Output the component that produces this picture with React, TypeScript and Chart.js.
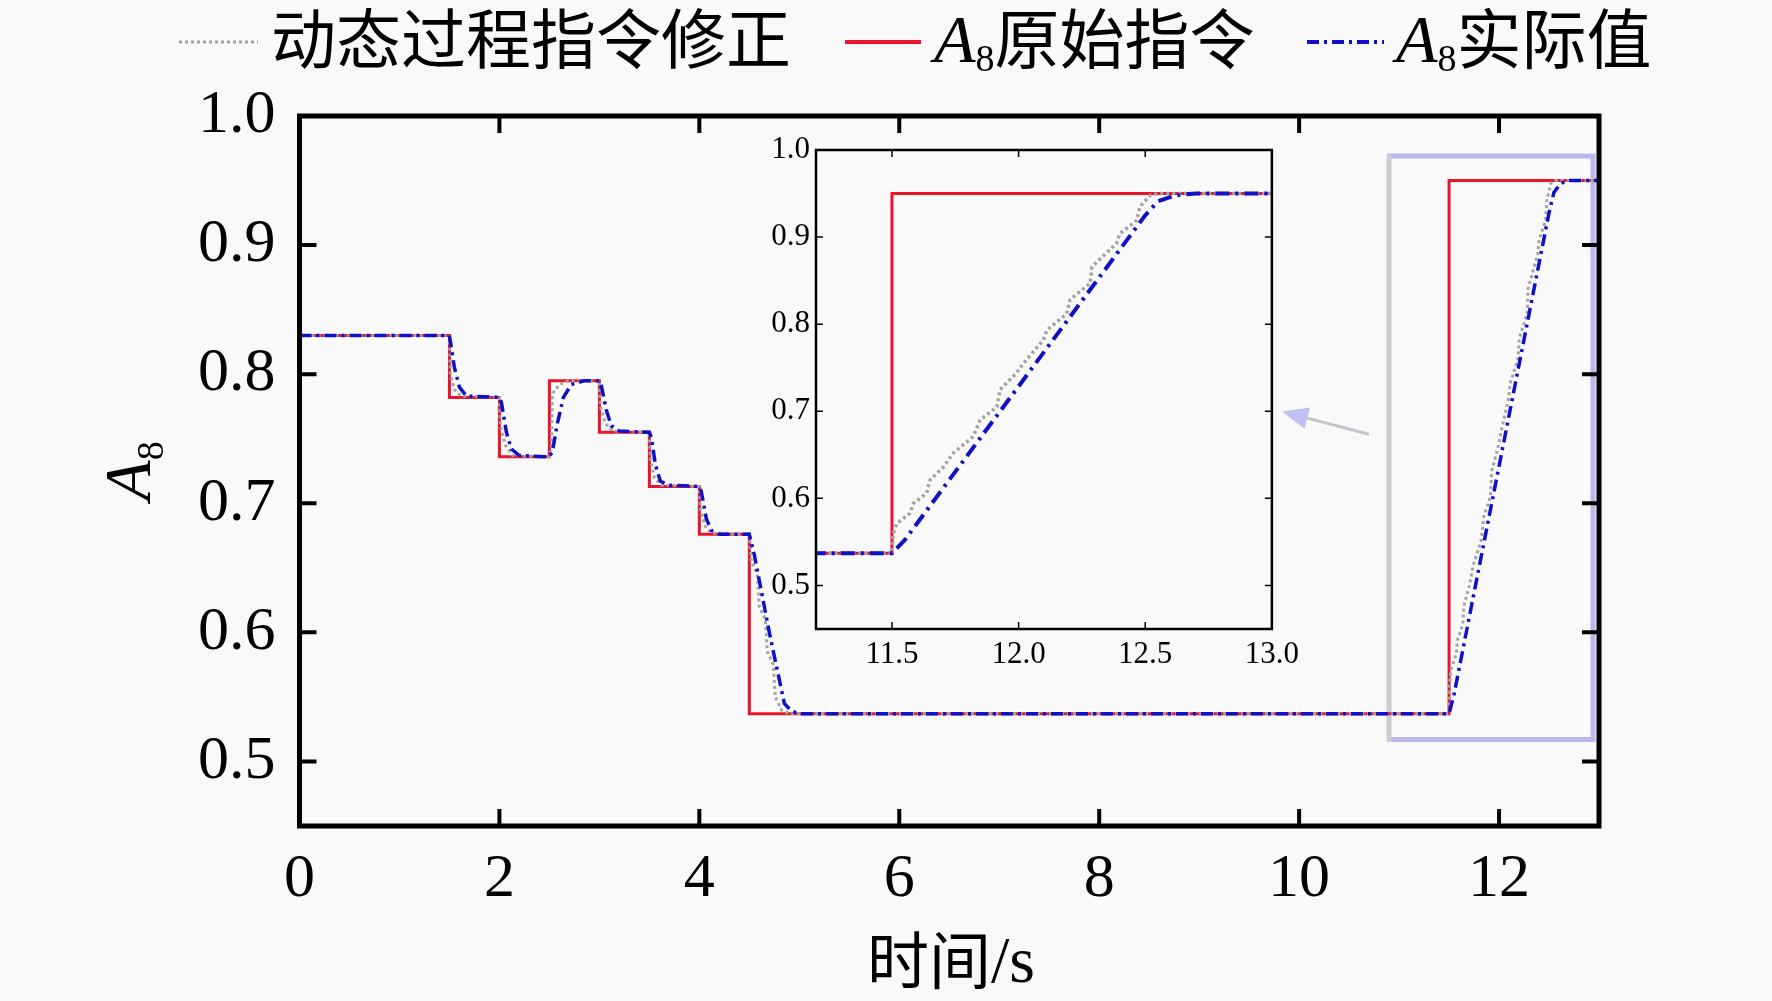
import React, { useEffect, useRef } from 'react';
import { Chart, registerables } from 'chart.js';

Chart.register(...registerables);

// ---- data (time in s, A8 values) ----
const redTimes = [0, 1.5, 2, 2.5, 3, 3.5, 4, 4.5, 11.5, 13];
const redValues = [0.83, 0.782, 0.736, 0.795, 0.755, 0.713, 0.676, 0.537, 0.95, 0.95];

const blueTimes = [
  0, 1.5, 1.55, 1.6, 1.67, 2.0, 2.02, 2.07, 2.12, 2.2, 2.5, 2.53, 2.58, 2.64, 2.72, 2.85,
  3.0, 3.02, 3.07, 3.12, 3.2, 3.5, 3.52, 3.56, 3.61, 3.7, 4.0, 4.02, 4.07, 4.12, 4.2,
  4.5, 4.55, 4.7, 4.85, 4.92, 5.0, 11.5, 11.55, 12.5, 12.55, 12.62, 12.7, 13.0,
];
const blueValues = [
  0.83, 0.83, 0.805, 0.79, 0.783, 0.782, 0.778, 0.755, 0.742, 0.737, 0.736, 0.74, 0.762, 0.782, 0.792, 0.795,
  0.795, 0.791, 0.772, 0.76, 0.756, 0.755, 0.751, 0.73, 0.717, 0.714, 0.713, 0.709, 0.688, 0.679, 0.676,
  0.676, 0.66, 0.6, 0.545, 0.539, 0.537, 0.537, 0.552, 0.925, 0.941, 0.948, 0.95, 0.95,
];

const grayTimes = [
  0, 1.5, 1.51, 1.55, 1.62, 2.0, 2.01, 2.06, 2.13, 2.5, 2.52, 2.53, 2.6, 2.7, 3.0, 3.01, 3.06, 3.13,
  3.5, 3.51, 3.55, 3.62, 4.0, 4.01, 4.06, 4.12, 4.5, 4.52, 4.58, 4.6, 4.66, 4.68, 4.74, 4.76, 4.82, 4.9,
  11.5, 11.505, 11.519, 11.571, 11.584, 11.637, 11.65, 11.703, 11.742, 11.821, 11.848, 11.914,
  11.927, 11.992, 12.019, 12.098, 12.111, 12.19, 12.203, 12.282, 12.29, 12.387, 12.4, 12.466,
  12.479, 12.52, 12.56, 13.0,
];
const grayValues = [
  0.83, 0.83, 0.8, 0.788, 0.783, 0.782, 0.76, 0.745, 0.737, 0.736, 0.742, 0.785, 0.792, 0.795, 0.795, 0.775, 0.762, 0.756,
  0.755, 0.735, 0.72, 0.714, 0.713, 0.695, 0.682, 0.677, 0.676, 0.655, 0.645, 0.62, 0.61, 0.585, 0.575, 0.55, 0.54, 0.537,
  0.537, 0.56, 0.571, 0.583, 0.594, 0.606, 0.621, 0.636, 0.652, 0.671, 0.69, 0.705,
  0.725, 0.744, 0.755, 0.782, 0.793, 0.812, 0.828, 0.847, 0.866, 0.893, 0.904, 0.919,
  0.935, 0.948, 0.95, 0.95,
];

const mainXTicks = [0, 2, 4, 6, 8, 10, 12];
const mainYTicks = [0.5, 0.6, 0.7, 0.8, 0.9, 1.0];
const insetXTicks = [11.5, 12.0, 12.5, 13.0];
const insetYTicks = [0.5, 0.6, 0.7, 0.8, 0.9, 1.0];

// highlight box (data units) and arrow (data units, tail -> head)
const zoomBoxX = [10.9, 12.94];
const zoomBoxY = [0.517, 0.969];
const arrowTail = [10.7, 0.7535];
const arrowHead = [9.83, 0.771];

const legendLabels = ['动态过程指令修正', '原始指令', '实际值'];

const W = 1772;
const H = 1001;
const SERIF = '"Liberation Serif", "Times New Roman", serif';
const CJK = '"Noto Sans CJK SC", sans-serif';
const RED = '#e8142e';
const BLUE = '#1010c8';
const GRAY = '#a4a4a4';

const pts = (t: number[], v: number[]) => t.map((x, i) => ({ x, y: v[i] }));

type Part = { text: string; font: string; dy?: number };
function drawParts(ctx: CanvasRenderingContext2D, x: number, y: number, parts: Part[], align: 'left' | 'center') {
  let total = 0;
  const widths = parts.map((p) => {
    ctx.font = p.font;
    const w = ctx.measureText(p.text).width;
    total += w;
    return w;
  });
  let cx = align === 'center' ? x - total / 2 : x;
  ctx.textAlign = 'left';
  ctx.textBaseline = 'alphabetic';
  parts.forEach((p, i) => {
    ctx.font = p.font;
    ctx.fillText(p.text, cx, y + (p.dy || 0));
    cx += widths[i];
  });
}

const mainDecor = {
  id: 'mainDecor',
  beforeDatasetsDraw(chart: any) {
    const ctx: CanvasRenderingContext2D = chart.ctx;
    const xs = chart.scales.x;
    const ys = chart.scales.y;
    ctx.save();
    // highlight box
    const bx0 = xs.getPixelForValue(zoomBoxX[0]);
    const bx1 = xs.getPixelForValue(zoomBoxX[1]);
    const by0 = ys.getPixelForValue(zoomBoxY[1]);
    const by1 = ys.getPixelForValue(zoomBoxY[0]);
    ctx.lineWidth = 5;
    ctx.strokeStyle = '#bcb8ec';
    ctx.beginPath();
    ctx.moveTo(bx0, by0);
    ctx.lineTo(bx1, by0);
    ctx.lineTo(bx1, by1);
    ctx.lineTo(bx0, by1);
    ctx.stroke();
    ctx.strokeStyle = '#cdcdd2';
    ctx.beginPath();
    ctx.moveTo(bx0, by0 - 2.5);
    ctx.lineTo(bx0, by1 + 2.5);
    ctx.stroke();
    // arrow
    const ax0 = xs.getPixelForValue(arrowTail[0]);
    const ay0 = ys.getPixelForValue(arrowTail[1]);
    const ax1 = xs.getPixelForValue(arrowHead[0]);
    const ay1 = ys.getPixelForValue(arrowHead[1]);
    const ang = Math.atan2(ay1 - ay0, ax1 - ax0);
    const hl = 26;
    const hw = 11;
    const bxh = ax1 - hl * Math.cos(ang);
    const byh = ay1 - hl * Math.sin(ang);
    ctx.strokeStyle = '#c4c4cc';
    ctx.lineWidth = 3;
    ctx.beginPath();
    ctx.moveTo(ax0, ay0);
    ctx.lineTo(bxh, byh);
    ctx.stroke();
    ctx.fillStyle = '#c0c0f2';
    ctx.beginPath();
    ctx.moveTo(ax1, ay1);
    ctx.lineTo(bxh + hw * Math.sin(ang), byh - hw * Math.cos(ang));
    ctx.lineTo(bxh - hw * Math.sin(ang), byh + hw * Math.cos(ang));
    ctx.closePath();
    ctx.fill();
    ctx.restore();
  },
  afterDraw(chart: any) {
    const ctx: CanvasRenderingContext2D = chart.ctx;
    const a = chart.chartArea;
    const xs = chart.scales.x;
    const ys = chart.scales.y;
    ctx.save();
    ctx.strokeStyle = '#000';
    ctx.lineWidth = 4;
    const tl = 17;
    mainXTicks.forEach((v) => {
      const px = xs.getPixelForValue(v);
      ctx.beginPath();
      ctx.moveTo(px, a.bottom);
      ctx.lineTo(px, a.bottom - tl);
      ctx.moveTo(px, a.top);
      ctx.lineTo(px, a.top + tl);
      ctx.stroke();
    });
    mainYTicks.forEach((v) => {
      const py = ys.getPixelForValue(v);
      ctx.beginPath();
      ctx.moveTo(a.left, py);
      ctx.lineTo(a.left + tl, py);
      ctx.moveTo(a.right, py);
      ctx.lineTo(a.right - tl, py);
      ctx.stroke();
    });
    ctx.lineWidth = 5;
    ctx.strokeRect(a.left, a.top, a.right - a.left, a.bottom - a.top);

    // legend
    const ly = 42;
    ctx.lineWidth = 3;
    ctx.strokeStyle = GRAY;
    ctx.setLineDash([3, 3]);
    ctx.beginPath();
    ctx.moveTo(179, ly);
    ctx.lineTo(258, ly);
    ctx.stroke();
    ctx.setLineDash([]);
    ctx.strokeStyle = RED;
    ctx.lineWidth = 4;
    ctx.beginPath();
    ctx.moveTo(845, ly);
    ctx.lineTo(921, ly);
    ctx.stroke();
    ctx.strokeStyle = BLUE;
    ctx.lineWidth = 4;
    ctx.setLineDash([12, 5, 3, 5]);
    ctx.beginPath();
    ctx.moveTo(1307, ly);
    ctx.lineTo(1384, ly);
    ctx.stroke();
    ctx.setLineDash([]);

    ctx.fillStyle = '#000';
    const cjkF = `65px ${CJK}`;
    const aF = `italic 68px ${SERIF}`;
    const subF = `38px ${SERIF}`;
    drawParts(ctx, 271, 63, [{ text: legendLabels[0], font: cjkF }], 'left');
    drawParts(ctx, 934, 63, [
      { text: 'A', font: aF, dy: -1 },
      { text: '8', font: subF, dy: 8 },
      { text: legendLabels[1], font: cjkF },
    ], 'left');
    drawParts(ctx, 1396, 63, [
      { text: 'A', font: aF, dy: -1 },
      { text: '8', font: subF, dy: 8 },
      { text: legendLabels[2], font: cjkF },
    ], 'left');

    // x title
    drawParts(ctx, 951, 982, [
      { text: '时间', font: `62px ${CJK}`, dy: 2 },
      { text: '/s', font: `66px ${SERIF}` },
    ], 'center');

    // y title
    ctx.translate(150, 471);
    ctx.rotate(-Math.PI / 2);
    drawParts(ctx, 0, 0, [
      { text: 'A', font: `italic 66px ${SERIF}` },
      { text: '8', font: `38px ${SERIF}`, dy: 13 },
    ], 'center');
    ctx.restore();
  },
};

const insetDecor = {
  id: 'insetDecor',
  afterDraw(chart: any) {
    const ctx: CanvasRenderingContext2D = chart.ctx;
    const a = chart.chartArea;
    const xs = chart.scales.x;
    const ys = chart.scales.y;
    ctx.save();
    ctx.strokeStyle = '#000';
    ctx.lineWidth = 1.5;
    const tl = 7;
    insetXTicks.forEach((v) => {
      const px = xs.getPixelForValue(v);
      ctx.beginPath();
      ctx.moveTo(px, a.bottom);
      ctx.lineTo(px, a.bottom - tl);
      ctx.moveTo(px, a.top);
      ctx.lineTo(px, a.top + tl);
      ctx.stroke();
    });
    insetYTicks.forEach((v) => {
      const py = ys.getPixelForValue(v);
      ctx.beginPath();
      ctx.moveTo(a.left, py);
      ctx.lineTo(a.left + tl, py);
      ctx.moveTo(a.right, py);
      ctx.lineTo(a.right - tl, py);
      ctx.stroke();
    });
    ctx.lineWidth = 2.5;
    ctx.strokeRect(a.left, a.top, a.right - a.left, a.bottom - a.top);
    ctx.restore();
  },
};

function makeDatasets(inset: boolean) {
  return [
    {
      label: 'A8实际值',
      data: pts(blueTimes, blueValues),
      borderColor: BLUE,
      borderWidth: inset ? 4 : 3.5,
      borderDash: inset ? [14, 6, 3, 6] : [12, 5, 3, 5],
      pointRadius: 0,
      fill: false,
      tension: 0,
    },
    {
      label: '动态过程指令修正',
      data: pts(grayTimes, grayValues),
      borderColor: GRAY,
      borderWidth: inset ? 3.5 : 3,
      borderDash: [3, 3],
      pointRadius: 0,
      fill: false,
      tension: 0,
    },
    {
      label: 'A8原始指令',
      data: pts(redTimes, redValues),
      borderColor: RED,
      borderWidth: 3,
      stepped: 'before',
      pointRadius: 0,
      fill: false,
    },
  ];
}

export default function App() {
  const mainRef = useRef<HTMLCanvasElement>(null);
  const insetRef = useRef<HTMLCanvasElement>(null);

  useEffect(() => {
    document.body.style.margin = '0';
    document.body.style.background = '#f9f9f9';
    const main = new Chart(mainRef.current as HTMLCanvasElement, {
      type: 'line',
      data: { datasets: makeDatasets(false) as any },
      options: {
        animation: false,
        responsive: false,
        devicePixelRatio: 1,
        layout: { padding: { left: 0, right: 173, top: 116, bottom: 0 } },
        plugins: { legend: { display: false }, tooltip: { enabled: false } },
        scales: {
          x: {
            type: 'linear',
            min: 0,
            max: 13,
            afterFit: (s: any) => { s.height = 175; },
            afterBuildTicks: (s: any) => { s.ticks = mainXTicks.map((v) => ({ value: v })); },
            grid: { display: false, drawTicks: false },
            border: { display: false },
            ticks: {
              font: { family: SERIF, size: 62 },
              color: '#000',
              padding: 17,
              maxRotation: 0,
              autoSkip: false,
              callback: (v: any) => String(v),
            },
          },
          y: {
            type: 'linear',
            min: 0.45,
            max: 1.0,
            afterFit: (s: any) => { s.width = 299.5; },
            afterBuildTicks: (s: any) => { s.ticks = mainYTicks.map((v) => ({ value: v })); },
            grid: { display: false, drawTicks: false },
            border: { display: false },
            ticks: {
              font: { family: SERIF, size: 62 },
              color: '#000',
              padding: 24,
              autoSkip: false,
              callback: (v: any) => Number(v).toFixed(1),
            },
          },
        },
      },
      plugins: [mainDecor],
    } as any);

    const inset = new Chart(insetRef.current as HTMLCanvasElement, {
      type: 'line',
      data: { datasets: makeDatasets(true) as any },
      options: {
        animation: false,
        responsive: false,
        devicePixelRatio: 1,
        layout: { padding: { left: 0, right: 34, top: 32, bottom: 0 } },
        plugins: { legend: { display: false }, tooltip: { enabled: false } },
        scales: {
          x: {
            type: 'linear',
            min: 11.2,
            max: 13.0,
            afterFit: (s: any) => { s.height = 49; },
            afterBuildTicks: (s: any) => { s.ticks = insetXTicks.map((v) => ({ value: v })); },
            grid: { display: false, drawTicks: false },
            border: { display: false },
            ticks: {
              font: { family: SERIF, size: 31 },
              color: '#000',
              padding: 7,
              maxRotation: 0,
              autoSkip: false,
              callback: (v: any) => Number(v).toFixed(1),
            },
          },
          y: {
            type: 'linear',
            min: 0.45,
            max: 1.0,
            afterFit: (s: any) => { s.width = 80; },
            afterBuildTicks: (s: any) => { s.ticks = insetYTicks.map((v) => ({ value: v })); },
            grid: { display: false, drawTicks: false },
            border: { display: false },
            ticks: {
              font: { family: SERIF, size: 31 },
              color: '#000',
              padding: 6,
              autoSkip: false,
              callback: (v: any) => Number(v).toFixed(1),
            },
          },
        },
      },
      plugins: [insetDecor],
    } as any);

    return () => {
      main.destroy();
      inset.destroy();
    };
  }, []);

  return (
    <div style={{ position: 'absolute', left: 0, top: 0, width: W, height: H, background: '#f9f9f9' }}>
      <canvas ref={mainRef} width={W} height={H} style={{ position: 'absolute', left: 0, top: 0, width: W, height: H }} />
      <canvas ref={insetRef} width={570} height={560} style={{ position: 'absolute', left: 736, top: 118, width: 570, height: 560 }} />
    </div>
  );
}
